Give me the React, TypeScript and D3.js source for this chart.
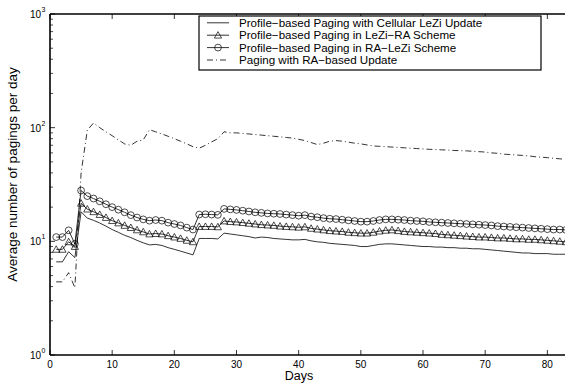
import React from 'react';
import * as d3 from 'd3';

// days 1..83
const days = d3.range(1, 84);

const cellularLeZi = [
  6.6, 6.6, 8.1, 7.2, 18.2, 16.0, 15.3, 14.5, 13.6, 12.7,
  12.0, 11.3, 10.8, 10.2, 9.7, 9.3, 9.4, 9.2, 8.8, 8.5,
  8.2, 7.9, 7.6, 10.6, 10.6, 10.6, 10.5, 11.8, 11.6, 11.4,
  11.2, 11.0, 10.7, 10.9, 10.8, 10.6, 10.5, 10.4, 10.3, 10.3,
  10.4, 10.1, 9.9, 9.8, 9.6, 9.5, 9.4, 9.3, 9.2, 9.0,
  9.0, 9.2, 9.4, 9.5, 9.5, 9.4, 9.3, 9.2, 9.1, 9.0,
  9.0, 8.9, 8.9, 8.8, 8.8, 8.7, 8.7, 8.6, 8.6, 8.5,
  8.4, 8.3, 8.2, 8.1, 8.0, 7.9, 7.9, 7.8, 7.8, 7.8,
  7.7, 7.7, 7.7,
];

const leziRA = [
  8.5, 8.5, 9.9, 9.0, 21.6, 19.2, 18.2, 17.2, 16.2, 15.2,
  14.5, 13.8, 13.2, 12.6, 12.1, 11.6, 11.7, 11.6, 11.2, 10.9,
  10.6, 10.2, 9.9, 13.5, 13.5, 13.5, 13.4, 15.1, 14.9, 14.8,
  14.6, 14.4, 14.2, 14.0, 13.9, 13.8, 13.6, 13.5, 13.4, 13.3,
  13.4, 13.0, 12.8, 12.6, 12.4, 12.3, 12.2, 12.0, 11.9, 11.8,
  11.8, 12.0, 12.3, 12.5, 12.6, 12.4, 12.2, 12.1, 12.0, 11.9,
  11.8, 11.7, 11.5, 11.4, 11.3, 11.2, 11.1, 11.0, 10.9, 10.9,
  10.8, 10.7, 10.7, 10.6, 10.5, 10.5, 10.4, 10.4, 10.3, 10.2,
  10.1, 10.0, 9.9,
];

const raLeZi = [
  10.9, 10.9, 12.5, 9.5, 28.0, 25.0, 23.8, 22.5, 21.2, 20.0,
  19.0, 18.0, 17.0, 16.2, 15.6, 15.2, 15.4, 15.2, 14.6, 14.2,
  13.8, 13.2, 12.7, 17.2, 17.3, 17.2, 17.1, 19.3, 19.1, 18.9,
  18.6, 18.3, 18.0, 17.8, 17.6, 17.5, 17.4, 17.2, 17.0, 16.8,
  17.0, 16.5, 16.3, 16.0, 15.8, 15.7, 15.5, 15.3, 15.1, 14.9,
  14.9, 15.1, 15.4, 15.6, 15.6, 15.5, 15.4, 15.2, 15.1, 15.0,
  14.8, 14.7, 14.6, 14.5, 14.4, 14.3, 14.2, 14.1, 14.0, 13.9,
  13.8, 13.6, 13.5, 13.4, 13.3, 13.2, 13.1, 13.0, 12.9, 12.8,
  12.7, 12.7, 12.6,
];

const raBased = [
  4.4, 4.4, 5.3, 3.9, 40, 95, 110, 100, 92, 85,
  78, 72, 70, 76, 78, 96, 92, 88, 84, 80,
  76, 72, 68, 66, 70, 75, 80, 92, 90, 90,
  89, 88, 87, 86, 85, 84, 83, 82, 81, 79,
  77, 74, 71, 73, 76, 77, 76, 74.5, 73, 72,
  70.5, 69, 68.5, 68, 67.5, 67, 66.5, 66, 65.5, 65,
  64.5, 64.2, 63.8, 63.5, 63, 62.8, 62.5, 62, 61.5, 61,
  60, 59.5, 58.5, 58, 57.5, 57, 56.5, 55.5, 55, 54.5,
  53.8, 53.2, 52.7,
];

const legendLabels = [
  'Profile\u2212based Paging with Cellular LeZi Update',
  'Profile\u2212based Paging in LeZi\u2212RA Scheme',
  'Profile\u2212based Paging in RA\u2212LeZi Scheme',
  'Paging with RA\u2212based Update',
];

const xTicks = [0, 10, 20, 30, 40, 50, 60, 70, 80];
const yDecades = [0, 1, 2, 3];

const W = 565;
const H = 383;
const left = 50;
const right = 566;
const top = 14;
const bottom = 355;
const font = 'Liberation Sans, Arial, Helvetica, sans-serif';
const dashDot = '6,3,1,3';

const x = d3.scaleLinear().domain([0, 83]).range([left, right]);
const y = d3.scaleLog().domain([1, 1000]).range([bottom, top]);

const line = d3.line<number>()
  .x((_, i) => x(days[i]))
  .y(d => y(d));

const triPath = (cx: number, cy: number, s = 3.6) =>
  `M${cx},${cy - s}L${cx + s},${cy + s * 0.8}L${cx - s},${cy + s * 0.8}Z`;

export default function App() {
  const minor: number[] = [];
  for (let e = 0; e < 3; e++) {
    for (let m = 2; m <= 9; m++) minor.push(m * Math.pow(10, e));
  }

  const lx0 = 207, lx1 = 229, lxText = 239;
  const rowY = [22.8, 35.2, 47.6, 60];

  return (
    <svg width={W} height={H} style={{ position: 'absolute', left: 0, top: 0, background: '#fff' }}
      fontFamily={font}>
      <rect x={0} y={0} width={W} height={H} fill="#fff" />

      {/* series */}
      <path d={line(cellularLeZi) || ''} fill="none" stroke="#000" strokeWidth={0.8} />
      <path d={line(leziRA) || ''} fill="none" stroke="#000" strokeWidth={0.8} />
      {leziRA.map((v, i) => (
        <path key={'t' + i} d={triPath(x(days[i]), y(v))} fill="none" stroke="#000" strokeWidth={0.7} />
      ))}
      <path d={line(raLeZi) || ''} fill="none" stroke="#000" strokeWidth={0.8} />
      {raLeZi.map((v, i) => (
        <circle key={'c' + i} cx={x(days[i])} cy={y(v)} r={3.4} fill="none" stroke="#000" strokeWidth={0.7} />
      ))}
      <path d={line(raBased) || ''} fill="none" stroke="#000" strokeWidth={0.8} strokeDasharray={dashDot} />

      {/* axes box */}
      <line x1={left} x2={right} y1={bottom} y2={bottom} stroke="#000" strokeWidth={1.6} />
      <line x1={left} x2={right} y1={top} y2={top} stroke="#000" strokeWidth={1.6} />
      <line x1={left} x2={left} y1={top} y2={bottom} stroke="#000" strokeWidth={1.6} />

      {xTicks.map(t => (
        <g key={'xt' + t}>
          <line x1={x(t)} x2={x(t)} y1={bottom} y2={bottom - 5} stroke="#000" strokeWidth={0.8} />
          <line x1={x(t)} x2={x(t)} y1={top} y2={top + 5} stroke="#000" strokeWidth={0.8} />
          <text x={x(t)} y={bottom + 12.5} textAnchor="middle" fontSize={10}>{t}</text>
        </g>
      ))}

      {yDecades.map(e => (
        <g key={'yt' + e}>
          <line x1={left} x2={left + 5} y1={y(Math.pow(10, e))} y2={y(Math.pow(10, e))} stroke="#000" strokeWidth={0.8} />
          <text x={41} y={y(Math.pow(10, e)) + 4} textAnchor="end" fontSize={10}>10</text>
          <text x={41.5} y={y(Math.pow(10, e)) - 2} fontSize={7}>{e}</text>
        </g>
      ))}
      {minor.map(m => (
        <line key={'m' + m} x1={left} x2={left + 3} y1={y(m)} y2={y(m)} stroke="#000" strokeWidth={0.7} />
      ))}

      <text x={299} y={379.5} textAnchor="middle" fontSize={12.5}>Days</text>
      <text transform={`translate(17,${(top + bottom) / 2 - 10}) rotate(-90)`} textAnchor="middle" fontSize={13.5}>
        Average number of pagings per day
      </text>

      {/* legend */}
      <rect x={199} y={16} width={342} height={54} fill="#fff" stroke="#000" strokeWidth={1.2} />
      {legendLabels.map((lab, i) => (
        <g key={'lg' + i}>
          <line x1={lx0} x2={lx1} y1={rowY[i]} y2={rowY[i]} stroke="#000" strokeWidth={0.8}
            strokeDasharray={i === 3 ? dashDot : undefined} />
          {i === 1 && <path d={triPath((lx0 + lx1) / 2, rowY[i])} fill="none" stroke="#000" strokeWidth={0.7} />}
          {i === 2 && <circle cx={(lx0 + lx1) / 2} cy={rowY[i]} r={3.4} fill="none" stroke="#000" strokeWidth={0.7} />}
          <text x={lxText} y={rowY[i] + 4} fontSize={11.6}>{lab}</text>
        </g>
      ))}
    </svg>
  );
}
